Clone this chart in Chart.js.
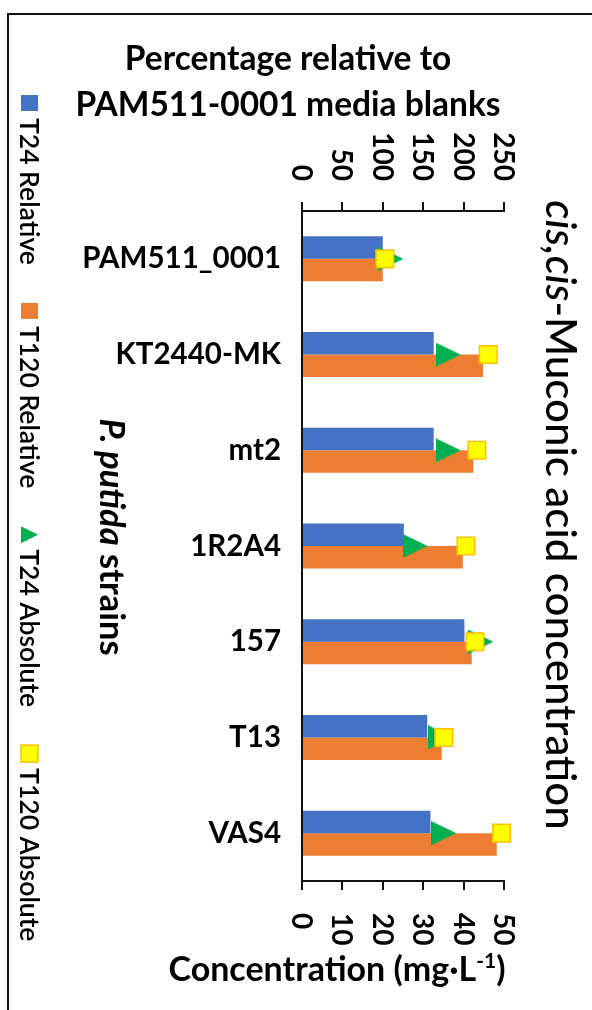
<!DOCTYPE html>
<html>
<head>
<meta charset="utf-8">
<title>cis,cis-Muconic acid concentration</title>
<script src="https://cdn.jsdelivr.net/npm/chart.js@4.4.1/dist/chart.umd.min.js"></script>
<style>
  html, body { margin: 0; padding: 0; background: #fff; }
  #wrap { position: relative; width: 592px; height: 1010px; overflow: hidden; }
  #frame { position: absolute; left: 7px; top: 13px; width: 620px; height: 1030px;
           border-left: 2px solid #111; border-top: 2px solid #111; }
  canvas { position: absolute; left: 0; top: 0; }
</style>
</head>
<body>
<div id="wrap">
  <div id="frame"></div>
  <canvas id="muconicChart" width="592" height="1010"></canvas>
</div>
<script>
// strains and measurements
const strains = ['PAM511_0001', 'KT2440-MK', 'mt2', '1R2A4', '157', 'T13', 'VAS4'];
const t24Relative = [100, 163, 163, 126, 201, 155, 159];     // % of media blank
const t120Relative = [100, 224, 212, 199, 210, 173, 241];    // % of media blank
const t24Absolute = [22.0, 36.2, 36.2, 28.0, 44.3, 34.4, 35.1];   // mg/L
const t120Absolute = [20.5, 46.1, 43.3, 40.6, 42.8, 35.1, 49.4];  // mg/L
const percentTicks = [0, 50, 100, 150, 200, 250];
const concTicks = [0, 10, 20, 30, 40, 50];

const FONT = 'Lato, "Open Sans", sans-serif';
const INK = '#000';

// right-pointing triangle used as the T24 marker
function makeTriangle(w, h, color) {
  const c = document.createElement('canvas');
  c.width = w;
  c.height = h;
  const g = c.getContext('2d');
  g.fillStyle = color;
  g.beginPath();
  g.moveTo(0, 0);
  g.lineTo(w, h / 2);
  g.lineTo(0, h);
  g.closePath();
  g.fill();
  return c;
}
const triangleMarker = makeTriangle(25, 24, '#00B050');

// text turned 90deg clockwise, glyph tops facing right; x is the baseline
function drawRotated(ctx, parts, x, y, align) {
  ctx.save();
  ctx.translate(x, y);
  ctx.rotate(Math.PI / 2);
  let total = 0;
  parts.forEach(p => {
    ctx.font = p.font;
    p.w = ctx.measureText(p.text).width;
    total += p.w;
  });
  let pos = align === 'center' ? -total / 2 : (align === 'right' ? -total : 0);
  ctx.textAlign = 'left';
  ctx.textBaseline = 'alphabetic';
  ctx.fillStyle = INK;
  parts.forEach(p => {
    ctx.font = p.font;
    ctx.fillText(p.text, pos, 0);
    pos += p.w;
  });
  ctx.restore();
  return total;
}

const decorations = {
  id: 'decorations',
  afterDraw(chart) {
    const ctx = chart.ctx;
    const top = chart.scales.x;
    const bottom = chart.scales.x2;

    // rotated tick labels on both value axes
    const tickFont = 'bold 28px ' + FONT;
    top.ticks.forEach(t => {
      const px = top.getPixelForValue(t.value);
      drawRotated(ctx, [{ text: String(t.value), font: tickFont }], px - 10, 181, 'right');
    });
    bottom.ticks.forEach(t => {
      const px = bottom.getPixelForValue(t.value);
      drawRotated(ctx, [{ text: String(t.value), font: tickFont }], px - 10, 913, 'left');
    });

    // horizontal axis titles
    ctx.save();
    ctx.fillStyle = INK;
    ctx.textAlign = 'center';
    ctx.textBaseline = 'alphabetic';
    ctx.font = 'bold 33.5px ' + FONT;
    ctx.fillText('Percentage relative to', 288, 70);
    ctx.fillText('PAM511-0001 media blanks', 288, 116);

    const main = 'Concentration (mg·L';
    const sup = '-1';
    ctx.font = 'bold 34px ' + FONT;
    const wMain = ctx.measureText(main).width;
    const wClose = ctx.measureText(')').width;
    ctx.font = 'bold 21px ' + FONT;
    const wSup = ctx.measureText(sup).width;
    let x0 = 337 - (wMain + wSup + wClose) / 2;
    ctx.textAlign = 'left';
    ctx.font = 'bold 34px ' + FONT;
    ctx.fillText(main, x0, 981);
    ctx.font = 'bold 21px ' + FONT;
    ctx.fillText(sup, x0 + wMain, 968);
    ctx.font = 'bold 34px ' + FONT;
    ctx.fillText(')', x0 + wMain + wSup, 981);
    ctx.restore();

    // chart title on the right and category axis title
    drawRotated(ctx, [
      { text: 'cis,cis', font: 'italic 500 42px ' + FONT },
      { text: '-Muconic acid concentration', font: '500 42px ' + FONT }
    ], 546, 515, 'center');
    drawRotated(ctx, [
      { text: 'P. putida', font: 'italic bold 34.5px ' + FONT },
      { text: ' strains', font: 'bold 34.5px ' + FONT }
    ], 100, 537, 'center');

    // legend down the left edge
    let y = 95;
    const mk = 17;
    chart.data.datasets.forEach(ds => {
      ctx.save();
      if (ds.type === 'line' && ds.pointStyle !== 'rect') {
        ctx.fillStyle = '#00B050';
        ctx.beginPath();
        ctx.moveTo(21, y);
        ctx.lineTo(21 + mk, y + mk / 2);
        ctx.lineTo(21, y + mk);
        ctx.closePath();
        ctx.fill();
      } else if (ds.type === 'line') {
        ctx.fillStyle = ds.backgroundColor;
        ctx.strokeStyle = ds.borderColor;
        ctx.lineWidth = 1.5;
        ctx.fillRect(21, y, mk, mk);
        ctx.strokeRect(21, y, mk, mk);
      } else {
        ctx.fillStyle = ds.backgroundColor;
        ctx.fillRect(21, y, mk, mk - 1);
      }
      ctx.restore();
      const w = drawRotated(ctx, [{ text: ds.label, font: '600 26.5px ' + FONT }], 20, y + mk + 6, 'left');
      y += mk + 6 + w + 38;
    });
  }
};

const ctx = document.getElementById('muconicChart').getContext('2d');
const muconicChart = new Chart(ctx, {
  type: 'bar',
  data: {
    labels: strains,
    datasets: [
      {
        label: 'T24 Relative',
        data: t24Relative,
        backgroundColor: '#4472C4',
        xAxisID: 'x',
        yAxisID: 'y',
        order: 2,
      },
      {
        label: 'T120 Relative',
        data: t120Relative,
        backgroundColor: '#ED7D31',
        xAxisID: 'x',
        yAxisID: 'y',
        order: 2,
      },
      {
        type: 'line',
        label: 'T24 Absolute',
        data: t24Absolute,
        indexAxis: 'y',
        xAxisID: 'x2',
        yAxisID: 'y',
        showLine: false,
        clip: false,
        pointStyle: triangleMarker,
        pointRadius: 12,
        backgroundColor: '#00B050',
        borderColor: '#00B050',
        order: 1,
      },
      {
        type: 'line',
        label: 'T120 Absolute',
        data: t120Absolute,
        indexAxis: 'y',
        xAxisID: 'x2',
        yAxisID: 'y',
        showLine: false,
        clip: false,
        pointStyle: 'rect',
        pointRadius: 12.4,
        backgroundColor: '#FFFF00',
        borderColor: '#FFC000',
        borderWidth: 1.5,
        order: 0,
      },
    ],
  },
  options: {
    indexAxis: 'y',
    responsive: false,
    animation: false,
    categoryPercentage: 0.47,
    barPercentage: 1.0,
    layout: { padding: { left: 0, top: 0, right: 88, bottom: 0 } },
    plugins: {
      legend: { display: false },
      tooltip: { enabled: false },
    },
    scales: {
      x: {
        type: 'linear',
        axis: 'x',
        position: 'top',
        min: 0,
        max: 250,
        afterBuildTicks: scale => { scale.ticks = percentTicks.map(v => ({ value: v })); },
        afterFit: scale => { scale.height = 211; },
        ticks: { display: false },
        grid: { drawOnChartArea: false, color: '#111', lineWidth: 2, tickLength: 9 },
        border: { color: '#111', width: 2 },
      },
      x2: {
        type: 'linear',
        axis: 'x',
        position: 'bottom',
        min: 0,
        max: 50,
        afterBuildTicks: scale => { scale.ticks = concTicks.map(v => ({ value: v })); },
        afterFit: scale => { scale.height = 129; },
        ticks: { display: false },
        grid: { drawOnChartArea: false, color: '#111', lineWidth: 2, tickLength: 9 },
        border: { color: '#111', width: 2 },
      },
      y: {
        type: 'category',
        offset: true,
        afterFit: scale => { scale.width = 302; },
        grid: { display: false, drawTicks: false },
        border: { color: '#111', width: 2 },
        ticks: {
          color: INK,
          padding: 21,
          font: { family: FONT, weight: 'bold', size: 29.5 },
        },
      },
    },
  },
  plugins: [decorations],
});
</script>
</body>
</html>
